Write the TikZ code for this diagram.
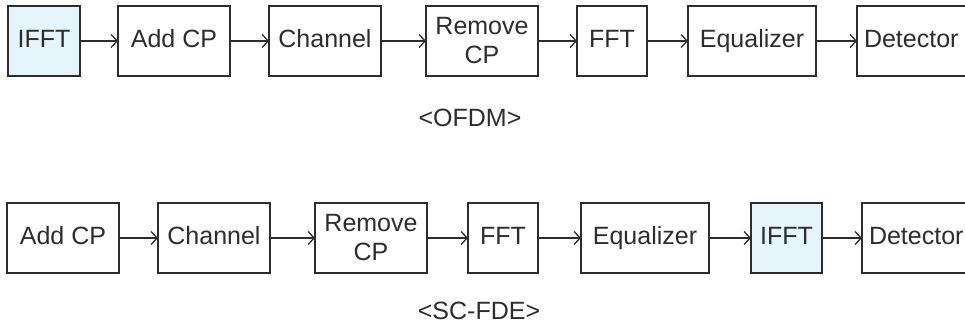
\documentclass[tikz,border=0pt]{standalone}
\usepackage{fontspec}
\setmainfont{Liberation Sans}
\usepackage{xcolor}
\usepackage{tikz}
\usetikzlibrary{arrows.meta, positioning}
\definecolor{inkgray}{RGB}{45, 45, 45}
\definecolor{fftfill}{RGB}{230, 244, 252}
\tikzset{
  font=\fontsize{25}{29}\selectfont,
  x=1pt, y=1pt,
  baseblock/.style={
    rectangle, draw=inkgray, line width=1.4pt, text=inkgray,
    minimum height=70pt, inner sep=0pt, outer sep=0pt, align=center
  },
  lineblock/.style={baseblock, text height=18pt, text depth=5pt},
  wideblock/.style={lineblock, minimum width=112pt},
  eqblock/.style={lineblock, minimum width=128pt},
  narrowblock/.style={lineblock, minimum width=70pt},
  fftblock/.style={narrowblock, fill=fftfill},
  detblock/.style={lineblock, inner xsep=7pt, text width=111pt, align=left},
  caption/.style={text=inkgray, inner sep=0pt},
  flowline/.style={
    draw=inkgray, -{Straight Barb[length=6pt, width=13pt, line width=1.3pt]}, line width=1.3pt
  }
}

\begin{document}
\begin{tikzpicture}

  \clip (0,0) rectangle (965,329);

  % OFDM chain
  \node[fftblock, minimum width=72pt] (ofdmifft) at (44,288) {IFFT};
  \node[wideblock, right=38pt of ofdmifft] (ofdmaddcp) {Add CP};
  \node[wideblock, right=39pt of ofdmaddcp] (ofdmchan) {Channel};
  \node[baseblock, minimum width=112pt, right=45pt of ofdmchan] (ofdmrmcp) {Remove\\CP};
  \node[narrowblock, right=39pt of ofdmrmcp] (ofdmfft) {FFT};
  \node[eqblock, right=41pt of ofdmfft] (ofdmeq) {Equalizer};
  \node[detblock, right=41pt of ofdmeq] (ofdmdet) {Detector};

  \node[caption] (ofdmlabel) at (470,211) {<OFDM>};

  % SC-FDE chain
  \node[wideblock] (scaddcp) at (63,91) {Add CP};
  \node[wideblock, right=39pt of scaddcp] (scchan) {Channel};
  \node[baseblock, minimum width=112pt, right=45pt of scchan] (scrmcp) {Remove\\CP};
  \node[narrowblock, right=41pt of scrmcp] (scfft) {FFT};
  \node[eqblock, right=43pt of scfft] (sceq) {Equalizer};
  \node[fftblock, right=42pt of sceq, minimum width=71pt] (scifft) {IFFT};
  \node[detblock, right=40pt of scifft] (scdet) {Detector};

  \node[caption] (sclabel) at (479,18) {<SC-FDE>};

  % Connecting Flows
  \draw[flowline] (ofdmifft) -- (ofdmaddcp);
  \draw[flowline] (ofdmaddcp) -- (ofdmchan);
  \draw[flowline] (ofdmchan) -- (ofdmrmcp);
  \draw[flowline] (ofdmrmcp) -- (ofdmfft);
  \draw[flowline] (ofdmfft) -- (ofdmeq);
  \draw[flowline] (ofdmeq) -- (ofdmdet);

  \draw[flowline] (scaddcp) -- (scchan);
  \draw[flowline] (scchan) -- (scrmcp);
  \draw[flowline] (scrmcp) -- (scfft);
  \draw[flowline] (scfft) -- (sceq);
  \draw[flowline] (sceq) -- (scifft);
  \draw[flowline] (scifft) -- (scdet);

\end{tikzpicture}
\end{document}
